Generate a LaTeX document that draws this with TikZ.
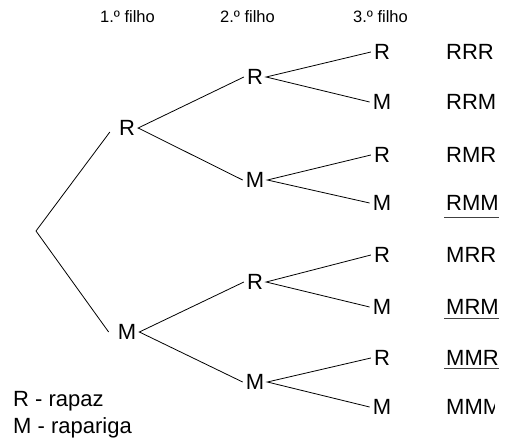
\documentclass[tikz,border=0pt]{standalone}
\usepackage{fontspec}
\setmainfont{Liberation Sans}
\begin{document}
\begin{tikzpicture}[x=1pt,y=-1pt,
  tn/.style={inner xsep=3pt,inner ysep=0pt,font=\fontsize{22}{25}\selectfont,text height=15.5pt,text depth=0pt},
  res/.style={anchor=west,inner sep=0pt,font=\fontsize{22}{25}\selectfont,text height=15.5pt,text depth=0pt},
  hd/.style={anchor=west,inner sep=0pt,font=\fontsize{16.5}{19}\selectfont},
  lg/.style={anchor=west,inner sep=0pt,font=\fontsize{22}{25}\selectfont,text height=15.5pt,text depth=0pt},
  br/.style={line width=0.8pt,black},
  ul/.style={line width=1pt,black!75}]
\useasboundingbox (0,0) rectangle (509,445);
% headers
\node[hd] (h1) at (100,17) {1.º filho};
\node[hd] (h2) at (220,17) {2.º filho};
\node[hd] (h3) at (353,17) {3.º filho};
% root
\coordinate (root) at (36,231);
% level 1
\node[tn] (a) at (127,128) {R};
\node[tn] (b) at (127,332) {M};
% level 2
\node[tn] (aa) at (255,77) {R};
\node[tn] (ab) at (255,180) {M};
\node[tn] (ba) at (255,282) {R};
\node[tn] (bb) at (255,382) {M};
% level 3
\node[tn] (aaa) at (382,52) {R};
\node[tn] (aab) at (382,102) {M};
\node[tn] (aba) at (382,155) {R};
\node[tn] (abb) at (382,203) {M};
\node[tn] (baa) at (382,255) {R};
\node[tn] (bab) at (382,307) {M};
\node[tn] (bba) at (382,358) {R};
\node[tn] (bbb) at (382,407) {M};
% results
\node[res] (r1) at (446,52) {RRR};
\node[res] (r2) at (446,102) {RRM};
\node[res] (r3) at (446,155) {RMR};
\node[res] (r4) at (446,203) {RMM};
\node[res] (r5) at (446,255) {MRR};
\node[res] (r6) at (446,307) {MRM};
\node[res] (r7) at (446,358) {MMR};
\begin{scope}
\clip (440,380) rectangle (494,430);
\node[res] (r8) at (446,407) {MMM};
\end{scope}
% underlines
\draw[ul] ([yshift=-7pt]r4.south west) ++(-2,0) -- ([yshift=-7pt]r4.south east);
\draw[ul] ([yshift=-4pt]r6.south west) ++(-2,0) -- ([yshift=-4pt]r6.south east);
\draw[ul] ([yshift=-3pt]r7.south west) ++(-2,0) -- ([yshift=-3pt]r7.south east);
% branches
\draw[br] (a.west) ++(-6,4) -- (root) -- ([xshift=-6pt]b.west);
\draw[br] (aa.west) -- (a.east) -- (ab.west);
\draw[br] (ba.west) -- (b.east) -- (bb.west);
\draw[br] (aaa.west) -- (aa.east) -- (aab.west);
\draw[br] (aba.west) -- (ab.east) -- (abb.west);
\draw[br] (baa.west) -- (ba.east) -- (bab.west);
\draw[br] (bba.west) -- (bb.east) -- (bbb.west);
% legend
\node[lg] (l1) at (13,399) {R - rapaz};
\node[lg] (l2) at (13,426) {M - rapariga};
\end{tikzpicture}
\end{document}
